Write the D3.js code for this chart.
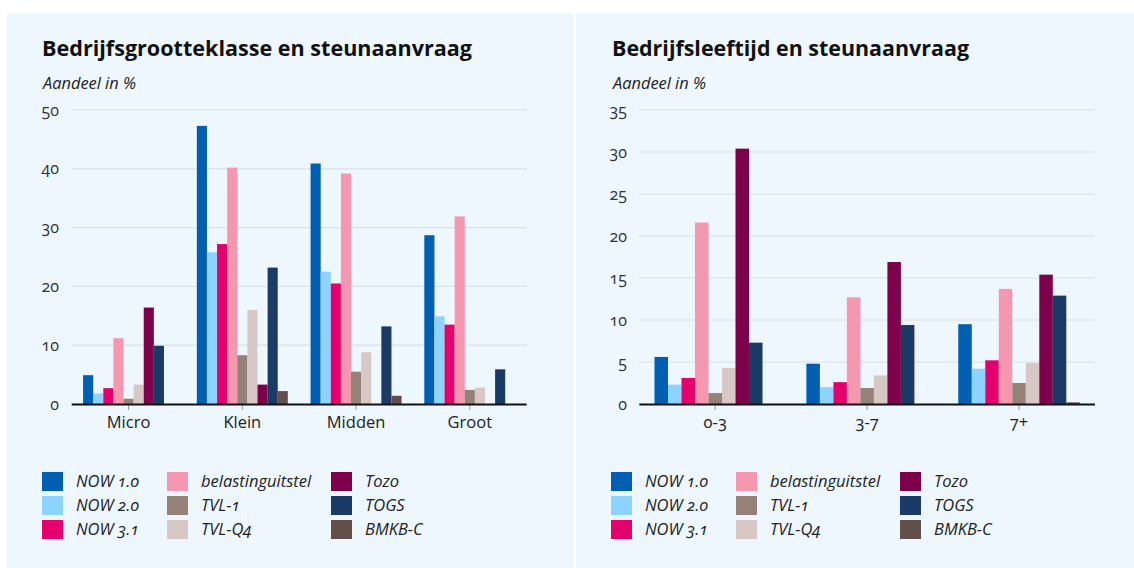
<!DOCTYPE html>
<html><head><meta charset="utf-8">
<script src="https://cdn.jsdelivr.net/npm/d3@7"></script>
<style>
html,body{margin:0;padding:0;background:#fff;}
svg{display:block;}
text{font-family:"Open Sans","Noto Sans",sans-serif;}
</style></head>
<body>
<svg id="chart" width="1134" height="568"></svg>
<script>
// ---- data ----
const seriesNames = ["NOW 1.0","NOW 2.0","NOW 3.1","belastinguitstel","TVL-1","TVL-Q4","Tozo","TOGS","BMKB-C"];
const seriesColors = ["#005fb0","#8dd3ff","#e4006d","#f597af","#968179","#d8c8c5","#7d004b","#1b3a66","#634f49"];

const sizeCategories = ["Micro","Klein","Midden","Groot"];
const sizeMicro  = [4.9, 1.8, 2.7, 11.2, 0.9, 3.3, 16.4, 9.9, 0];
const sizeKlein  = [47.3, 25.8, 27.2, 40.2, 8.3, 16.0, 3.3, 23.2, 2.2];
const sizeMidden = [40.9, 22.5, 20.5, 39.2, 5.5, 8.8, 0, 13.2, 1.4];
const sizeGroot  = [28.7, 14.9, 13.5, 31.9, 2.4, 2.8, 0, 5.9, 0];
const sizeTicks  = [0, 10, 20, 30, 40, 50];

const ageCategories = ["0-3","3-7","7+"];
const age0to3 = [5.6, 2.3, 3.1, 21.6, 1.3, 4.3, 30.4, 7.3, 0];
const age3to7 = [4.8, 2.0, 2.6, 12.7, 1.9, 3.4, 16.9, 9.4, 0];
const age7plus = [9.5, 4.2, 5.2, 13.7, 2.5, 4.9, 15.4, 12.9, 0.2];
const ageTicks = [0, 5, 10, 15, 20, 25, 30, 35];

const titles = ["Bedrijfsgrootteklasse en steunaanvraag","Bedrijfsleeftijd en steunaanvraag"];
const subtitle = "Aandeel in %";

// ---- drawing ----
const svg = d3.select("#chart");

function panel(cfg){
  const g = svg.append("g");
  g.append("rect").attr("x",cfg.px).attr("y",13).attr("width",cfg.pw).attr("height",555).attr("fill","#eef7fd");
  g.append("text").attr("x",cfg.tx).attr("y",56).text(cfg.title)
    .attr("font-size",21).attr("font-weight",700).attr("fill","#111")
    .attr("textLength",cfg.titleLen).attr("lengthAdjust","spacingAndGlyphs");
  g.append("text").attr("x",cfg.tx+1).attr("y",89).text(subtitle)
    .attr("font-size",16).attr("font-style","italic").attr("fill","#222")
    .attr("textLength",93).attr("lengthAdjust","spacingAndGlyphs");

  const x0 = d3.scaleBand().domain(cfg.categories).range([cfg.x0,cfg.x1]).padding(0);
  const x1 = d3.scaleBand().domain(seriesNames).range([x0.bandwidth()*0.1, x0.bandwidth()*0.9]).padding(0);
  const y = d3.scaleLinear().domain([0,cfg.max]).range([404,110]);
  const color = d3.scaleOrdinal().domain(seriesNames).range(seriesColors);

  // grid
  g.append("g").selectAll("line").data(cfg.ticks.filter(t=>t>0)).join("line")
    .attr("x1",cfg.x0).attr("x2",cfg.x1).attr("y1",d=>y(d)).attr("y2",d=>y(d))
    .attr("stroke","#d9e1e9").attr("stroke-width",1.2);
  // y axis labels
  const ya = g.append("g").attr("transform",`translate(${cfg.x0},0)`)
    .call(d3.axisLeft(y).tickValues(cfg.ticks).tickSize(0).tickPadding(cfg.x0-cfg.labelRight));
  ya.select(".domain").remove();
  ya.selectAll("text").attr("font-size",16).attr("fill","#333")
    .attr("font-family","'Open Sans','Noto Sans',sans-serif").style("font-feature-settings","'onum'");

  // bars
  const groups = g.append("g").selectAll("g").data(cfg.categories.map((c,i)=>({c,vals:cfg.values[i]}))).join("g")
    .attr("transform",d=>`translate(${x0(d.c)},0)`);
  groups.selectAll("rect").data(d=>d.vals.map((v,j)=>({s:seriesNames[j],v}))).join("rect")
    .attr("x",d=>x1(d.s)).attr("width",x1.bandwidth())
    .attr("y",d=>y(d.v)).attr("height",d=>y(0)-y(d.v))
    .attr("fill",d=>color(d.s));

  // x axis
  const xa = g.append("g").attr("transform","translate(0,404)")
    .call(d3.axisBottom(x0).tickSize(6).tickPadding(6).tickSizeOuter(0));
  xa.select(".domain").remove();
  xa.selectAll(".tick line").attr("stroke","#999").attr("stroke-width",1);
  xa.selectAll("text").attr("font-size",16.5).attr("fill","#222")
    .attr("font-family","'Open Sans','Noto Sans',sans-serif").style("font-feature-settings","'onum'");
  g.append("line").attr("x1",cfg.x0).attr("x2",cfg.x1).attr("y1",404.5).attr("y2",404.5)
    .attr("stroke","#111").attr("stroke-width",2);

  // legend
  const colOff = [0,125,289];
  const leg = g.append("g").selectAll("g").data(seriesNames).join("g")
    .attr("transform",(d,i)=>`translate(${cfg.lx+colOff[Math.floor(i/3)]},${472+ (i%3)*24})`);
  leg.append("rect").attr("width",21).attr("height",19).attr("fill",d=>color(d));
  leg.append("text").attr("x",34).attr("y",15).text(d=>d)
    .attr("font-size",16.5).attr("font-style","italic").attr("fill","#222")
    .style("font-feature-settings","'onum'");
}

panel({px:7,pw:567,tx:42,title:titles[0],titleLen:430,categories:sizeCategories,
  values:[sizeMicro,sizeKlein,sizeMidden,sizeGroot],max:50,ticks:sizeTicks,
  x0:71.7,x1:526.7,labelRight:59,lx:42});
panel({px:576,pw:558,tx:612,title:titles[1],titleLen:357,categories:ageCategories,
  values:[age0to3,age3to7,age7plus],max:35,ticks:ageTicks,
  x0:639.3,x1:1095,labelRight:627,lx:611});
</script>
</body></html>
